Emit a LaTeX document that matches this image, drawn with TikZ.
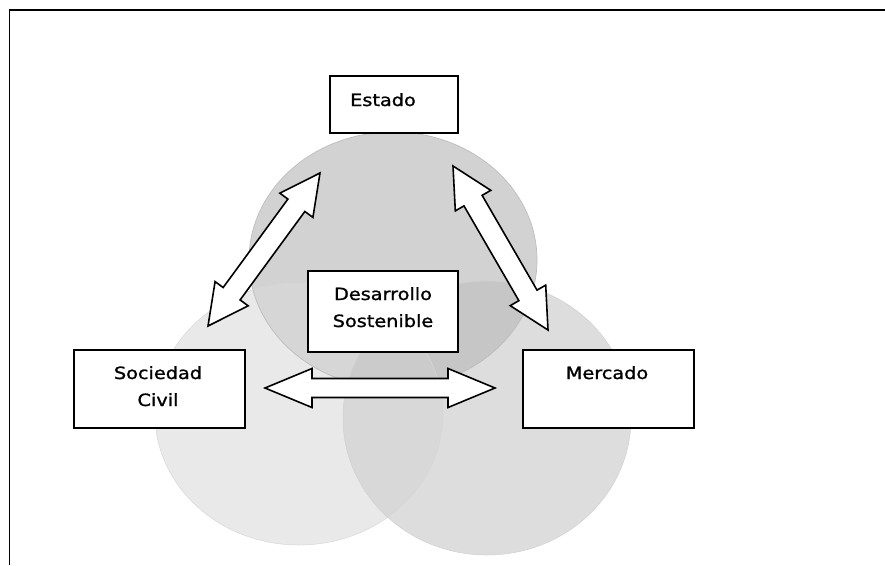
\documentclass[tikz,border=0pt]{standalone}
\usepackage{fontspec}
\setmainfont{DejaVu Sans}[FakeStretch=1.14,FakeBold=1.2]
\usetikzlibrary{calc}
\definecolor{tonly}{HTML}{D2D2D2}
\definecolor{lonly}{HTML}{E9E9E9}
\definecolor{ronly}{HTML}{DDDDDD}
\definecolor{tl}{HTML}{D6D6D6}
\definecolor{tr}{HTML}{C6C6C6}
\definecolor{lr}{HTML}{D8D8D8}
\definecolor{tlr}{HTML}{CBCBCB}
\definecolor{edge}{HTML}{BDBDBD}
\tikzset{
  box/.style={draw=black, line width=1.7pt, fill=white},
  lbl/.style={inner sep=0pt, font=\fontsize{16.9}{27}\selectfont},
  blockarrow/.style={draw=black, line width=1.6pt, fill=white, line join=miter},
}
\newcommand\dblarrow[5]{%
  \draw[blockarrow] (#1)
    -- ($(#1)!#3!(#2)!#4!90:(#2)$)
    -- ($(#1)!#3!(#2)!#5!90:(#2)$)
    -- ($(#2)!#3!(#1)!#5!-90:(#1)$)
    -- ($(#2)!#3!(#1)!#4!-90:(#1)$)
    -- (#2)
    -- ($(#2)!#3!(#1)!#4!90:(#1)$)
    -- ($(#2)!#3!(#1)!#5!90:(#1)$)
    -- ($(#1)!#3!(#2)!#5!-90:(#2)$)
    -- ($(#1)!#3!(#2)!#4!-90:(#2)$)
    -- cycle;}
\begin{document}
\begin{tikzpicture}[x=1pt,y=-1pt]
\useasboundingbox (0,0) rectangle (885,565);
% frame
\draw[line width=1.6pt] (9.5,565) -- (9.5,10) -- (885,10);
% circles
\def\cT{(393,260) ellipse [x radius=144, y radius=128]}
\def\cL{(299,414) ellipse [x radius=144, y radius=131]}
\def\cR{(487,418) ellipse [x radius=144, y radius=137]}
\fill[lonly] \cL;
\fill[ronly] \cR;
\fill[tonly] \cT;
\begin{scope}\clip \cL; \fill[lr] \cR; \end{scope}
\begin{scope}\clip \cT; \fill[tl] \cL; \end{scope}
\begin{scope}\clip \cT; \fill[tr] \cR; \end{scope}
\begin{scope}\clip \cT; \clip \cL; \fill[tlr] \cR; \end{scope}
\draw[edge, line width=0.7pt] \cT;
\draw[edge!60, line width=0.5pt] \cL;
\draw[edge!70, line width=0.5pt] \cR;
% boxes
\node[box, minimum width=128, minimum height=57, anchor=north west] (estado) at (329,75) {};
\node[lbl, anchor=base west] (estadotxt) at (350,106) {Estado};
\node[box, minimum width=150, minimum height=81, anchor=north west] (desarrollo) at (307,270) {};
\node[lbl, align=center, anchor=base] (desarrollotxt) at (383,327) {Desarrollo\\Sostenible};
\node[box, minimum width=171, minimum height=78, anchor=north west] (sociedad) at (73,349) {};
\node[lbl, align=center, anchor=base] (sociedadtxt) at (158,406) {Sociedad\\Civil};
\node[box, minimum width=171, minimum height=78, anchor=north west] (mercado) at (522,349) {};
\node[lbl, anchor=base] (mercadotxt) at (607,379) {Mercado};
% arrows
\coordinate (la) at (208,326);
\coordinate (lb) at (320,173);
\coordinate (ra) at (453,166);
\coordinate (rb) at (548,330);
\coordinate (ha) at (265,388);
\coordinate (hb) at (495,388);
\dblarrow{la}{lb}{40pt}{20.5pt}{10.5pt}
\dblarrow{ra}{rb}{40pt}{20.5pt}{10.5pt}
\dblarrow{ha}{hb}{47pt}{19.5pt}{9.5pt}
\end{tikzpicture}
\end{document}
